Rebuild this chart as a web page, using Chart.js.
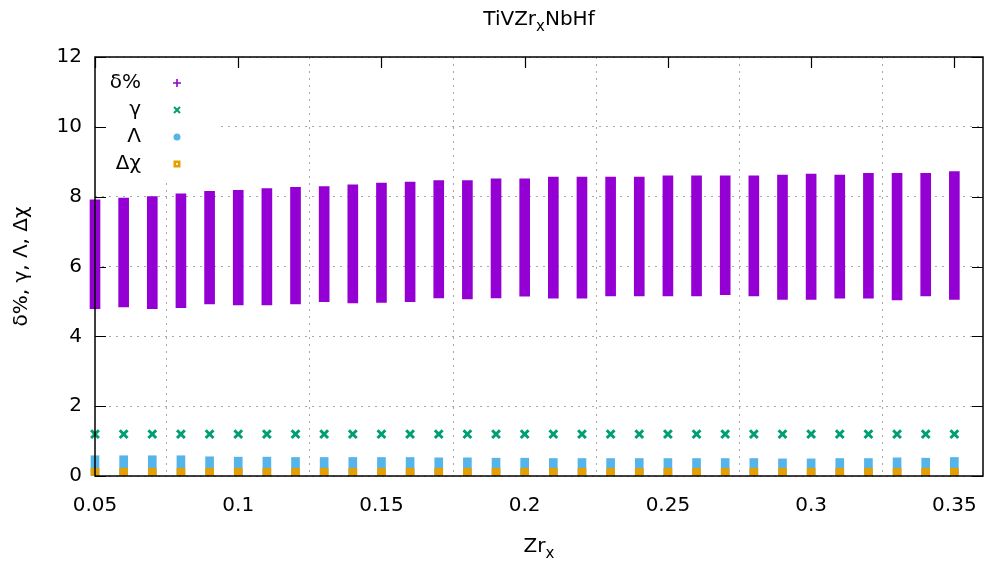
<!DOCTYPE html>
<html>
<head>
<meta charset="utf-8">
<script src="https://cdn.jsdelivr.net/npm/chart.js@4"></script>
<style>
  html, body { margin: 0; padding: 0; background: #fff; }
  #wrap { width: 984px; height: 562px; }
</style>
</head>
<body>
<div id="wrap"><canvas id="myChart"></canvas></div>
<script>
// Zr content (x) for each composition
const zrX = [0.05, 0.06, 0.07, 0.08, 0.09, 0.10, 0.11, 0.12, 0.13, 0.14, 0.15,
             0.16, 0.17, 0.18, 0.19, 0.20, 0.21, 0.22, 0.23, 0.24, 0.25, 0.26,
             0.27, 0.28, 0.29, 0.30, 0.31, 0.32, 0.33, 0.34, 0.35];

// δ% spread at each x (low / high end of the column)
const deltaLow  = [4.79, 4.84, 4.79, 4.82, 4.93, 4.90, 4.90, 4.93, 4.99, 4.96, 4.97,
                   4.99, 5.10, 5.07, 5.10, 5.15, 5.09, 5.09, 5.16, 5.16, 5.16, 5.16,
                   5.19, 5.16, 5.06, 5.06, 5.09, 5.09, 5.04, 5.16, 5.06];
const deltaHigh = [7.91, 7.96, 8.00, 8.08, 8.15, 8.18, 8.23, 8.27, 8.29, 8.34, 8.39,
                   8.42, 8.46, 8.46, 8.51, 8.51, 8.56, 8.56, 8.56, 8.56, 8.60, 8.60,
                   8.60, 8.60, 8.62, 8.65, 8.62, 8.67, 8.67, 8.67, 8.72];

// γ
const gammaVals = [1.20, 1.20, 1.20, 1.20, 1.20, 1.20, 1.20, 1.20, 1.20, 1.20, 1.20,
                   1.20, 1.20, 1.20, 1.20, 1.20, 1.20, 1.20, 1.20, 1.20, 1.20, 1.20,
                   1.20, 1.20, 1.20, 1.20, 1.20, 1.20, 1.20, 1.20, 1.20];

// Λ (top of the column)
const lambdaHigh = [0.58, 0.58, 0.58, 0.58, 0.55, 0.54, 0.54, 0.53, 0.53, 0.53, 0.53,
                    0.53, 0.52, 0.52, 0.51, 0.51, 0.50, 0.50, 0.50, 0.50, 0.50, 0.50,
                    0.50, 0.50, 0.49, 0.49, 0.50, 0.50, 0.52, 0.51, 0.53];

// Δχ (top of the column)
const chiHigh = [0.22, 0.22, 0.22, 0.22, 0.22, 0.22, 0.22, 0.22, 0.22, 0.22, 0.22,
                 0.22, 0.22, 0.22, 0.22, 0.22, 0.22, 0.22, 0.22, 0.22, 0.22, 0.22,
                 0.22, 0.22, 0.22, 0.22, 0.22, 0.22, 0.22, 0.22, 0.22];

const xTicks = [0.05, 0.1, 0.15, 0.2, 0.25, 0.3, 0.35];
const yTicks = [0, 2, 4, 6, 8, 10, 12];

const FONT = 'DejaVu Sans';
const tickFont = { family: FONT, size: 20 };

// draws text with subscript pieces, centred on x
function drawParts(ctx, parts, x, y) {
    let w = 0;
    parts.forEach(p => {
        ctx.font = (p.sub ? 15 : 20) + 'px "' + FONT + '"';
        p.w = ctx.measureText(p.t).width;
        w += p.w;
    });
    let cx = x - w / 2;
    ctx.textAlign = 'left';
    ctx.textBaseline = 'alphabetic';
    parts.forEach(p => {
        ctx.font = (p.sub ? 15 : 20) + 'px "' + FONT + '"';
        ctx.fillText(p.t, cx, p.sub ? y + 6 : y);
        cx += p.w;
    });
}

const gnuFrame = {
    id: 'gnuFrame',
    beforeDatasetsDraw(chart) {
        const ctx = chart.ctx;
        const a = chart.chartArea;
        const xs = chart.scales.x, ys = chart.scales.y;
        ctx.save();
        // key box hides the grid
        ctx.fillStyle = '#fff';
        ctx.fillRect(a.left + 1, a.top + 1, 125, 120);
        // inward tick marks, mirrored
        ctx.strokeStyle = '#000';
        ctx.lineWidth = 1.2;
        ctx.beginPath();
        yTicks.forEach(v => {
            const py = Math.round(ys.getPixelForValue(v)) + 0.5;
            ctx.moveTo(a.left, py); ctx.lineTo(a.left + 11, py);
            ctx.moveTo(a.right, py); ctx.lineTo(a.right - 11, py);
        });
        xTicks.forEach(v => {
            const px = Math.round(xs.getPixelForValue(v)) + 0.5;
            ctx.moveTo(px, a.bottom); ctx.lineTo(px, a.bottom - 11);
            ctx.moveTo(px, a.top); ctx.lineTo(px, a.top + 11);
        });
        ctx.stroke();
        ctx.restore();
    },
    afterDatasetsDraw(chart) {
        const ctx = chart.ctx;
        const a = chart.chartArea;
        ctx.save();
        ctx.strokeStyle = '#000';
        ctx.lineWidth = 1.5;
        ctx.strokeRect(a.left, a.top, a.right - a.left, a.bottom - a.top);

        // key
        ctx.fillStyle = '#000';
        ctx.font = '20px "' + FONT + '"';
        ctx.textAlign = 'right';
        ctx.textBaseline = 'middle';
        const rows = [83, 110, 137, 164];
        const mx = 177;
        chart.data.datasets.forEach((ds, i) => {
            ctx.fillStyle = '#000';
            ctx.fillText(ds.label, 141, rows[i]);
            const y = rows[i];
            ctx.strokeStyle = ds.keyColor;
            ctx.fillStyle = ds.keyColor;
            if (i === 0) {
                ctx.lineWidth = 1.6;
                ctx.beginPath();
                ctx.moveTo(mx - 4, y); ctx.lineTo(mx + 4, y);
                ctx.moveTo(mx, y - 4); ctx.lineTo(mx, y + 4);
                ctx.stroke();
            } else if (i === 1) {
                ctx.lineWidth = 2;
                ctx.beginPath();
                ctx.moveTo(mx - 3, y - 3); ctx.lineTo(mx + 3, y + 3);
                ctx.moveTo(mx - 3, y + 3); ctx.lineTo(mx + 3, y - 3);
                ctx.stroke();
            } else if (i === 2) {
                ctx.beginPath();
                ctx.arc(mx, y, 3.5, 0, Math.PI * 2);
                ctx.fill();
            } else {
                ctx.fillRect(mx - 3.5, y - 3.5, 7, 7);
                ctx.fillStyle = '#fff3d0';
                ctx.fillRect(mx - 1, y - 1, 2, 2);
            }
        });

        // titles
        ctx.fillStyle = '#000';
        const cx = (a.left + a.right) / 2;
        drawParts(ctx, [{ t: 'TiVZr' }, { t: 'x', sub: true }, { t: 'NbHf' }], cx, 25);
        drawParts(ctx, [{ t: 'Zr' }, { t: 'x', sub: true }], cx, 552);

        ctx.translate(22, (a.top + a.bottom) / 2);
        ctx.rotate(-Math.PI / 2);
        ctx.font = '20px "' + FONT + '"';
        ctx.textAlign = 'center';
        ctx.textBaseline = 'middle';
        ctx.fillText('δ%, γ, Λ, Δχ', 0, 0);
        ctx.restore();
    }
};

const data = {
    datasets: [
        {
            label: 'δ%',
            type: 'bar',
            data: zrX.map((x, i) => ({ x: x, y: [deltaLow[i], deltaHigh[i]] })),
            backgroundColor: '#9400d3',
            keyColor: '#9400d3',
            barThickness: 10,
            grouped: false,
            clip: false,
            order: 4,
        },
        {
            label: 'γ',
            type: 'scatter',
            data: zrX.map((x, i) => ({ x: x, y: gammaVals[i] })),
            borderColor: '#009e73',
            backgroundColor: '#009e73',
            keyColor: '#009e73',
            pointStyle: 'crossRot',
            pointRadius: 5.5,
            pointBorderWidth: 3,
            clip: false,
            order: 3,
        },
        {
            label: 'Λ',
            type: 'bar',
            data: zrX.map((x, i) => ({ x: x, y: [0, lambdaHigh[i]] })),
            backgroundColor: '#56b4e9',
            keyColor: '#56b4e9',
            barThickness: 8,
            grouped: false,
            clip: false,
            order: 2,
        },
        {
            label: 'Δχ',
            type: 'bar',
            data: zrX.map((x, i) => ({ x: x, y: [0, chiHigh[i]] })),
            backgroundColor: '#e69f00',
            keyColor: '#e69f00',
            barThickness: 8,
            grouped: false,
            clip: false,
            order: 1,
        },
    ],
};

const config = {
    type: 'bar',
    data: data,
    options: {
        responsive: true,
        maintainAspectRatio: false,
        animation: false,
        layout: { autoPadding: false, padding: { top: 57, right: 1, left: 0, bottom: 0 } },
        plugins: {
            legend: { display: false },
            title: { display: false },
            tooltip: { enabled: false },
        },
        scales: {
            x: {
                type: 'linear',
                min: 0.05,
                max: 0.36,
                offset: false,
                afterBuildTicks: s => { s.ticks = xTicks.map(v => ({ value: v })); },
                afterFit: s => {
                    s.height = 86;
                    s.paddingLeft = 0;
                    s.paddingRight = 0;
                },
                ticks: {
                    font: tickFont,
                    color: '#000',
                    padding: 18,
                    maxRotation: 0,
                    callback: v => String(v),
                },
                grid: { color: '#a8a8a8', lineWidth: 1, drawTicks: false },
                border: { display: false, dash: [2, 5] },
            },
            y: {
                type: 'linear',
                min: 0,
                max: 12,
                afterBuildTicks: s => { s.ticks = yTicks.map(v => ({ value: v })); },
                afterFit: s => {
                    s.width = 95;
                    s.paddingTop = 0;
                    s.paddingBottom = 0;
                },
                ticks: {
                    font: tickFont,
                    color: '#000',
                    padding: 13,
                },
                grid: { color: '#a8a8a8', lineWidth: 1, drawTicks: false },
                border: { display: false, dash: [2, 5] },
            },
        },
    },
    plugins: [gnuFrame],
};

const myChart = new Chart(document.getElementById('myChart'), config);
</script>
</body>
</html>
